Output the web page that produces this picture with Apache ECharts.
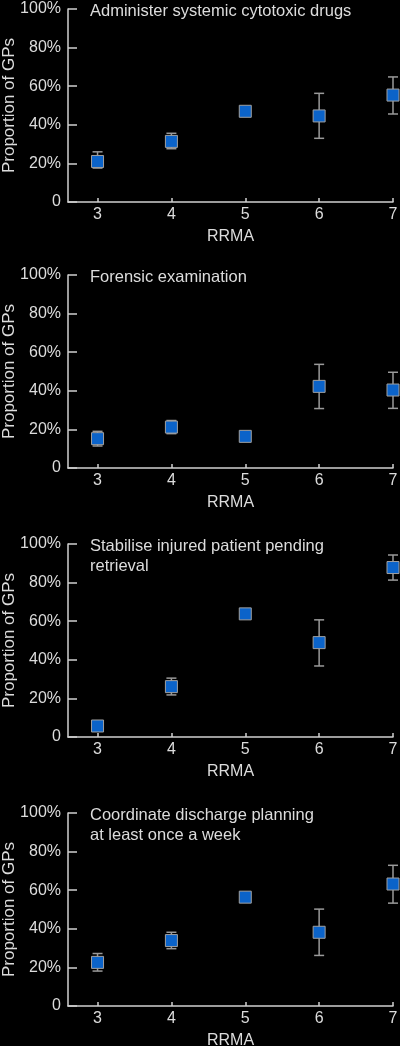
<!DOCTYPE html>
<html>
<head>
<meta charset="utf-8">
<script src="https://cdn.jsdelivr.net/npm/echarts@6/dist/echarts.min.js"></script>
<style>
  html, body { margin: 0; padding: 0; background: #000; }
  #chart { width: 400px; height: 1046px; }
</style>
</head>
<body>
<div id="chart"></div>
<script>
// RRMA categories on the x axis
const rrma = [3, 4, 5, 6, 7];

const titles = [
  'Administer systemic cytotoxic drugs',
  'Forensic examination',
  'Stabilise injured patient pending\nretrieval',
  'Coordinate discharge planning\nat least once a week'
];

// proportion of GPs (%), with lower / upper bounds of the error bars
const cytotoxicEst = [21, 31.4, 47, 44.6, 55.4];
const cytotoxicLow = [17.6, 27.6, 45.5, 33, 45.6];
const cytotoxicHigh = [26, 35.6, 48.5, 56.3, 64.8];

const forensicEst = [15.2, 21.2, 16.4, 42.3, 40.4];
const forensicLow = [11.4, 17.8, 14.5, 30.8, 30.9];
const forensicHigh = [19, 24.6, 18.3, 53.7, 49.6];

const stabiliseEst = [5.7, 26.1, 63.8, 48.9, 87.8];
const stabiliseLow = [3.5, 21.8, 62, 36.8, 81.3];
const stabiliseHigh = [8, 30.5, 65.5, 60.7, 94.3];

const dischargeEst = [22.6, 33.9, 56.4, 38.2, 63.2];
const dischargeLow = [18.1, 29.7, 54.5, 26.2, 53.3];
const dischargeHigh = [27.2, 38.2, 58.3, 50.2, 72.9];

const panels = [
  [cytotoxicEst, cytotoxicLow, cytotoxicHigh],
  [forensicEst, forensicLow, forensicHigh],
  [stabiliseEst, stabiliseLow, stabiliseHigh],
  [dischargeEst, dischargeLow, dischargeHigh]
];

const font = 'Liberation Sans, Arial, Helvetica, sans-serif';
const textColor = '#dcdcdc';
const axisColor = '#d0d0d0';
const gridTops = [9, 275, 544, 813];
const gridH = 193;

const chart = echarts.init(document.getElementById('chart'));

const grid = [], xAxis = [], yAxis = [], series = [], title = [];

gridTops.forEach(function (top, i) {
  grid.push({ left: 68, right: 7, top: top, height: gridH, outerBoundsMode: 'none' });

  title.push({
    text: titles[i],
    left: 90,
    top: top - 8,
    padding: 0,
    textStyle: {
      color: textColor, fontSize: 16.5, fontWeight: 'normal',
      fontFamily: font, lineHeight: 20
    }
  });

  xAxis.push({
    type: 'value',
    gridIndex: i,
    min: 2.6,
    max: 7,
    name: 'RRMA',
    nameLocation: 'middle',
    nameGap: 27,
    nameTextStyle: { color: textColor, fontSize: 16, fontFamily: font },
    splitLine: { show: false },
    axisLine: { lineStyle: { color: axisColor, width: 1.5 } },
    axisTick: {
      inside: true, length: 4, customValues: rrma,
      lineStyle: { color: axisColor, width: 1.5 }
    },
    axisLabel: {
      customValues: rrma, margin: 5,
      color: textColor, fontSize: 16, fontFamily: font
    }
  });

  yAxis.push({
    type: 'value',
    gridIndex: i,
    min: 0,
    max: 100,
    interval: 20,
    name: 'Proportion of GPs',
    nameLocation: 'middle',
    nameGap: 50,
    nameMoveOverlap: false,
    nameTextStyle: { color: textColor, fontSize: 17, fontFamily: font },
    splitLine: { show: false },
    axisLine: { show: true, lineStyle: { color: axisColor, width: 1.5 } },
    axisTick: { inside: true, length: 9, lineStyle: { color: axisColor, width: 1.5 } },
    axisLabel: {
      margin: 7, color: textColor, fontSize: 16, fontFamily: font,
      formatter: function (v) { return v === 0 ? '0' : v + '%'; }
    }
  });

  const est = panels[i][0], low = panels[i][1], high = panels[i][2];

  series.push({
    type: 'custom',
    xAxisIndex: i,
    yAxisIndex: i,
    data: rrma.map(function (x, k) { return [x, low[k], high[k]]; }),
    renderItem: function (params, api) {
      const lo = api.coord([api.value(0), api.value(1)]);
      const hi = api.coord([api.value(0), api.value(2)]);
      const w = 5;
      const style = { stroke: '#9a9a9a', lineWidth: 1.5 };
      return {
        type: 'group',
        children: [
          { type: 'line', shape: { x1: lo[0], y1: lo[1], x2: hi[0], y2: hi[1] }, style: style },
          { type: 'line', shape: { x1: lo[0] - w, y1: lo[1], x2: lo[0] + w, y2: lo[1] }, style: style },
          { type: 'line', shape: { x1: hi[0] - w, y1: hi[1], x2: hi[0] + w, y2: hi[1] }, style: style }
        ]
      };
    },
    clip: false,
    z: 2
  });

  series.push({
    type: 'scatter',
    xAxisIndex: i,
    yAxisIndex: i,
    symbol: 'rect',
    symbolSize: 12,
    data: rrma.map(function (x, k) { return [x, est[k]]; }),
    itemStyle: { color: '#0b63c9', borderColor: '#a0a0a0', borderWidth: 1, opacity: 1 },
    clip: false,
    z: 3
  });
});

chart.setOption({
  backgroundColor: '#000',
  animation: false,
  title: title,
  grid: grid,
  xAxis: xAxis,
  yAxis: yAxis,
  series: series
});
</script>
</body>
</html>
